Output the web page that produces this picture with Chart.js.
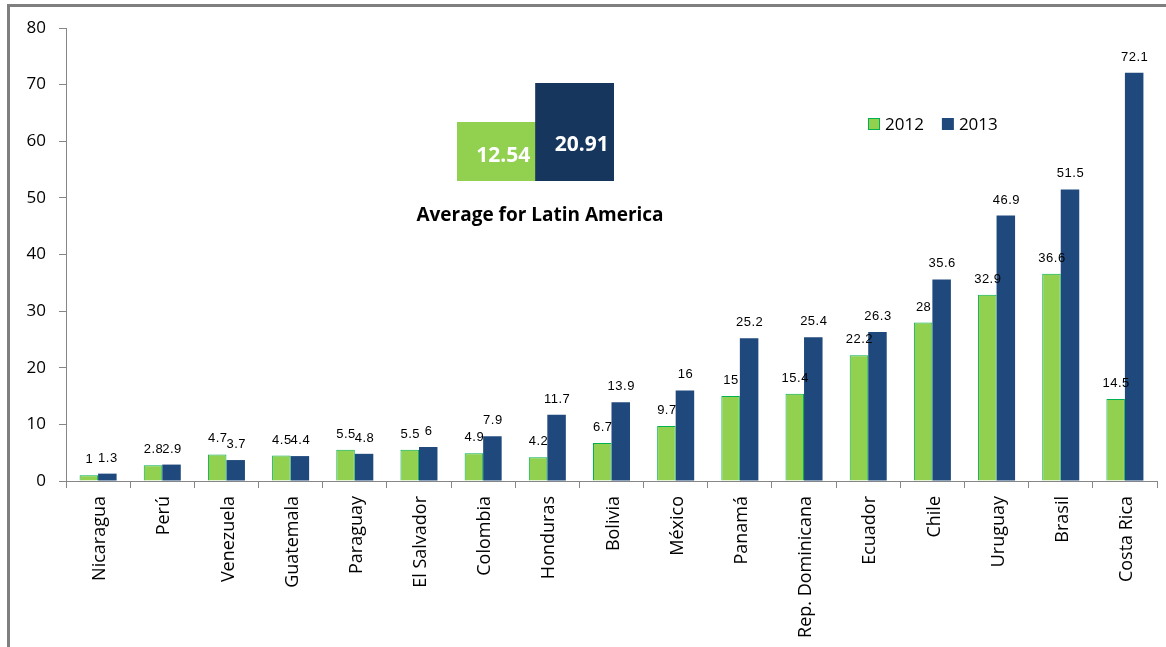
<!DOCTYPE html>
<html>
<head>
<meta charset="utf-8">
<script src="https://cdn.jsdelivr.net/npm/chart.js@4.4.1/dist/chart.umd.min.js"></script>
<style>
  html, body { margin: 0; padding: 0; background: #fff; overflow: hidden; }
  #wrap { position: relative; width: 1166px; height: 647px; }
  #frame {
    position: absolute; left: 7px; top: 4px; width: 1200px; height: 700px;
    border-top: 3px solid #7f7f7f; border-left: 3px solid #7f7f7f; pointer-events: none;
  }
  #main { position: absolute; left: 0; top: 0; }
  #avg { position: absolute; left: 457px; top: 83px; }
  #avgCaption {
    position: absolute; left: 340px; width: 400px; top: 201px; text-align: center;
    font-family: "Open Sans", sans-serif; font-weight: bold; font-size: 19px; color: #000;
  }
</style>
</head>
<body>
<div id="wrap">
  <canvas id="main" width="1166" height="647"></canvas>
  <canvas id="avg" width="157" height="98"></canvas>
  <div id="avgCaption">Average for Latin America</div>
  <div id="frame"></div>
</div>
<script>
// Countries, ordered by the 2013 value
const countries = ['Nicaragua', 'Perú', 'Venezuela', 'Guatemala', 'Paraguay', 'El Salvador',
  'Colombia', 'Honduras', 'Bolivia', 'México', 'Panamá', 'Rep. Dominicana', 'Ecuador',
  'Chile', 'Uruguay', 'Brasil', 'Costa Rica'];
const values2012 = [1, 2.8, 4.7, 4.5, 5.5, 5.5, 4.9, 4.2, 6.7, 9.7, 15, 15.4, 22.2, 28, 32.9, 36.6, 14.5];
const values2013 = [1.3, 2.9, 3.7, 4.4, 4.8, 6, 7.9, 11.7, 13.9, 16, 25.2, 25.4, 26.3, 35.6, 46.9, 51.5, 72.1];
const seriesLabels = ['2012', '2013'];
const yTicks = [0, 10, 20, 30, 40, 50, 60, 70, 80];

// Regional averages
const avgLabels = ['2012', '2013'];
const avgValues = [12.54, 20.91];

const GREEN = '#92d050';
const GREEN_EDGE = '#00b050';
const BLUE = '#1f497d';
const NAVY = '#17365d';
const AXIS = '#868686';

// Number labels above each bar
const valueLabels = {
  id: 'valueLabels',
  afterDatasetsDraw(chart) {
    const ctx = chart.ctx;
    ctx.save();
    ctx.font = '13px "Liberation Sans", Arial, sans-serif';
    ctx.letterSpacing = '0.5px';
    ctx.fillStyle = '#000';
    ctx.textAlign = 'center';
    ctx.textBaseline = 'bottom';
    chart.data.datasets.forEach((ds, i) => {
      chart.getDatasetMeta(i).data.forEach((bar, j) => {
        ctx.fillText(String(ds.data[j]), bar.x + 0.5, bar.y - 9);
      });
    });
    ctx.restore();
  }
};

// Legend drawn inside the plot area
const innerLegend = {
  id: 'innerLegend',
  afterDraw(chart) {
    const ctx = chart.ctx;
    ctx.save();
    ctx.font = '17px "Open Sans", sans-serif';
    ctx.textBaseline = 'middle';
    ctx.textAlign = 'left';
    let x = 868;
    const y = 124;
    chart.data.datasets.forEach((ds) => {
      ctx.fillStyle = ds.backgroundColor;
      ctx.fillRect(x, y - 6, 12, 12);
      if (ds.borderWidth) {
        ctx.strokeStyle = ds.borderColor;
        ctx.lineWidth = 1;
        ctx.strokeRect(x + 0.5, y - 5.5, 11, 11);
      }
      ctx.fillStyle = '#000';
      ctx.fillText(ds.label, x + 17, y + 1);
      x += 17 + ctx.measureText(ds.label).width + 18;
    });
    ctx.restore();
  }
};

new Chart(document.getElementById('main'), {
  type: 'bar',
  data: {
    labels: countries,
    datasets: [
      { label: seriesLabels[0], data: values2012, backgroundColor: GREEN, borderColor: GREEN_EDGE, borderWidth: 1 },
      { label: seriesLabels[1], data: values2013, backgroundColor: BLUE, borderWidth: 0 }
    ]
  },
  options: {
    responsive: false,
    animation: false,
    layout: { padding: { top: 28, right: 9, left: 0, bottom: 0 } },
    datasets: { bar: { barPercentage: 1, categoryPercentage: 0.577 } },
    plugins: { legend: { display: false }, tooltip: { enabled: false } },
    scales: {
      x: {
        grid: { offset: true, drawOnChartArea: false, drawTicks: true, tickLength: 7, color: AXIS },
        border: { color: AXIS, width: 1 },
        ticks: {
          minRotation: 90, maxRotation: 90, padding: 8, labelOffset: 2, autoSkip: false,
          color: '#000', font: { family: '"Open Sans", sans-serif', size: 18 }
        },
        afterFit(scale) { scale.height = 647 - 481; }
      },
      y: {
        min: 0, max: 80,
        afterBuildTicks(scale) { scale.ticks = yTicks.map(v => ({ value: v })); },
        grid: { drawOnChartArea: false, drawTicks: true, tickLength: 7, color: AXIS },
        border: { color: AXIS, width: 1 },
        ticks: { padding: 13, color: '#000', font: { family: '"Open Sans", sans-serif', size: 17 } },
        afterFit(scale) { scale.width = 66; }
      }
    }
  },
  plugins: [valueLabels, innerLegend]
});

// Figures printed inside the average bars
const avgFigures = {
  id: 'avgFigures',
  afterDatasetsDraw(chart) {
    const ctx = chart.ctx;
    const rise = [25, 36];
    ctx.save();
    ctx.font = 'bold 21px "Open Sans", sans-serif';
    ctx.fillStyle = '#fff';
    ctx.textAlign = 'center';
    ctx.textBaseline = 'middle';
    chart.getDatasetMeta(0).data.forEach((bar, j) => {
      ctx.fillText(avgValues[j].toFixed(2), bar.x + 7, bar.base - rise[j]);
    });
    ctx.restore();
  }
};

new Chart(document.getElementById('avg'), {
  type: 'bar',
  data: {
    labels: avgLabels,
    datasets: [{ data: avgValues, backgroundColor: [GREEN, NAVY], borderWidth: 0,
                 barPercentage: 1, categoryPercentage: 1 }]
  },
  options: {
    responsive: false,
    animation: false,
    layout: { padding: 0 },
    plugins: { legend: { display: false }, tooltip: { enabled: false } },
    scales: {
      x: { display: false },
      y: { display: false, min: 0, max: avgValues[1] }
    }
  },
  plugins: [avgFigures]
});
</script>
</body>
</html>
